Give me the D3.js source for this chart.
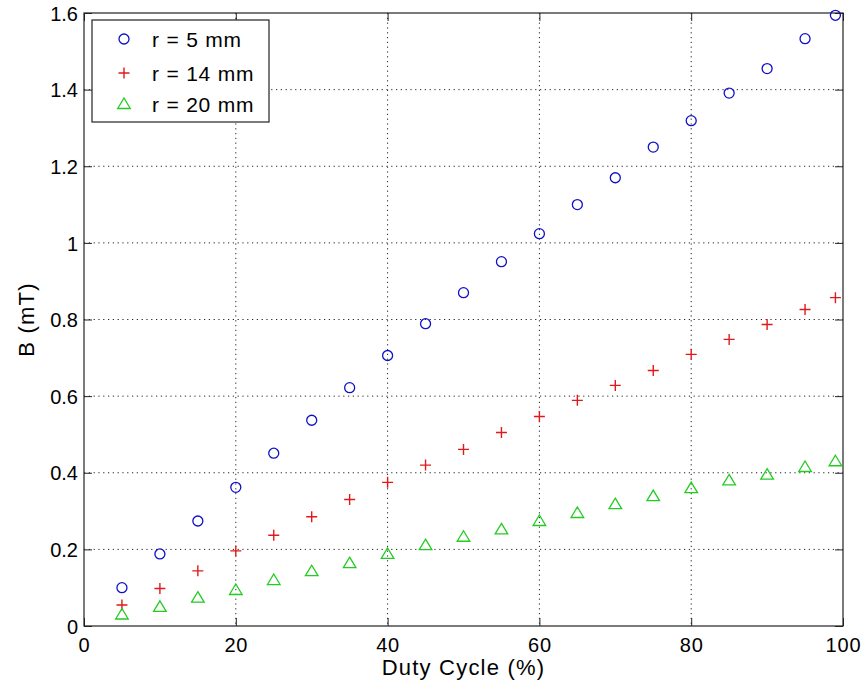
<!DOCTYPE html>
<html><head><meta charset="utf-8">
<script src="https://cdn.jsdelivr.net/npm/d3@7"></script>
<style>
body{margin:0;background:#fff;}
svg{display:block;font-family:"Liberation Sans",Arial,Helvetica,sans-serif;}
</style></head>
<body><svg id="c" width="868" height="686"></svg>
<script>
const duty = [5,10,15,20,25,30,35,40,45,50,55,60,65,70,75,80,85,90,95,99];
const b5  = [0.100,0.188,0.274,0.362,0.451,0.537,0.622,0.706,0.789,0.870,0.951,1.024,1.100,1.170,1.250,1.319,1.391,1.455,1.533,1.594];
const b14 = [0.055,0.098,0.144,0.196,0.237,0.285,0.330,0.375,0.420,0.461,0.505,0.547,0.589,0.628,0.667,0.709,0.748,0.787,0.826,0.857];
const b20 = [0.030,0.050,0.074,0.094,0.120,0.143,0.164,0.188,0.211,0.233,0.252,0.274,0.295,0.318,0.339,0.360,0.380,0.395,0.415,0.430];
const seriesNames = ["r = 5 mm","r = 14 mm","r = 20 mm"];
const xTicks = [0,20,40,60,80,100];
const yTicks = [0,0.2,0.4,0.6,0.8,1,1.2,1.4,1.6];
const xLabel = "Duty Cycle (%)";
const yLabel = "B (mT)";

const L=84,R=843,T=13,B=626;
const svg=d3.select("#c");
const x=d3.scaleLinear().domain([0,100]).range([L,R]);
const y=d3.scaleLinear().domain([0,1.6]).range([B,T]);

// grid
const g=svg.append("g");
g.selectAll(".gx").data(xTicks.filter(d=>d>0&&d<100)).join("line")
  .attr("x1",d=>x(d)).attr("x2",d=>x(d)).attr("y1",T).attr("y2",B)
  .attr("stroke","#222").attr("stroke-width",1).attr("stroke-dasharray","1.2,3.6");
g.selectAll(".gy").data(yTicks.filter(d=>d>0&&d<1.6)).join("line")
  .attr("y1",d=>y(d)).attr("y2",d=>y(d)).attr("x1",L).attr("x2",R)
  .attr("stroke","#222").attr("stroke-width",1).attr("stroke-dasharray","1.2,3.6");

// axes with inward ticks on all four sides
const fmt=d=>d3.format("~g")(d);
function styleAxis(sel){
  sel.select(".domain").remove();
  sel.selectAll(".tick line").attr("stroke","#222");
  sel.selectAll("text").attr("fill","#000").style("font-size","20px").style("font-family","'Liberation Sans',Arial,sans-serif");
}
const ax=svg.append("g").attr("transform",`translate(0,${B})`)
  .call(d3.axisBottom(x).tickValues(xTicks).tickFormat(fmt).tickSizeInner(-8).tickPadding(12));
styleAxis(ax); ax.selectAll("text").attr("letter-spacing","0.8px");
const axT=svg.append("g").attr("transform",`translate(0,${T})`)
  .call(d3.axisTop(x).tickValues(xTicks).tickFormat("").tickSizeInner(-8));
styleAxis(axT);
const ay=svg.append("g").attr("transform",`translate(${L},0)`)
  .call(d3.axisLeft(y).tickValues(yTicks).tickFormat(fmt).tickSizeInner(-8).tickPadding(6));
styleAxis(ay); ay.selectAll("text").attr("dy","0.36em");
const ayR=svg.append("g").attr("transform",`translate(${R},0)`)
  .call(d3.axisRight(y).tickValues(yTicks).tickFormat("").tickSizeInner(-8));
styleAxis(ayR);

svg.append("rect").attr("x",L).attr("y",T).attr("width",R-L).attr("height",B-T)
  .attr("fill","none").attr("stroke","#222").attr("stroke-width",1.2);

// markers
const cBlue="#1010c8", cRed="#e01a1a", cGreen="#22cc22";
function circle(sel,cx,cy){sel.append("circle").attr("cx",cx).attr("cy",cy).attr("r",5)
  .attr("fill","none").attr("stroke",cBlue).attr("stroke-width",1.3);}
function plus(sel,cx,cy){sel.append("path").attr("d",`M${cx-5.5},${cy}H${cx+5.5}M${cx},${cy-5.5}V${cy+5.5}`)
  .attr("stroke",cRed).attr("stroke-width",1.4).attr("fill","none");}
function tri(sel,cx,cy){sel.append("path").attr("d",`M${cx},${cy-6}L${cx+6.3},${cy+4.5}L${cx-6.3},${cy+4.5}Z`)
  .attr("stroke",cGreen).attr("stroke-width",1.3).attr("fill","none");}
const m=svg.append("g");
duty.forEach((d,i)=>{
  circle(m,x(d),y(b5[i]));
  plus(m,x(d),y(b14[i]));
  tri(m,x(d),y(b20[i]));
});

// legend
const lg=svg.append("g");
lg.append("rect").attr("x",92).attr("y",20).attr("width",177).attr("height",102)
  .attr("fill","#fff").attr("stroke","#222").attr("stroke-width",1.2);
const rows=[39,73,104];
circle(lg,124,rows[0]); plus(lg,124,rows[1]); tri(lg,124,rows[2]);
seriesNames.forEach((s,i)=>{
  lg.append("text").attr("x",152).attr("y",rows[i]+8).text(s)
    .style("font-size","21px").attr("letter-spacing","0.8px").attr("fill","#000");
});

// axis labels
svg.append("text").attr("x",(L+R)/2).attr("y",675).attr("text-anchor","middle")
  .style("font-size","22px").attr("letter-spacing","1.2px").text(xLabel);
svg.append("text").attr("transform",`translate(34,${(T+B)/2}) rotate(-90)`).attr("text-anchor","middle")
  .style("font-size","22px").attr("letter-spacing","1.2px").text(yLabel);
</script></body></html>
